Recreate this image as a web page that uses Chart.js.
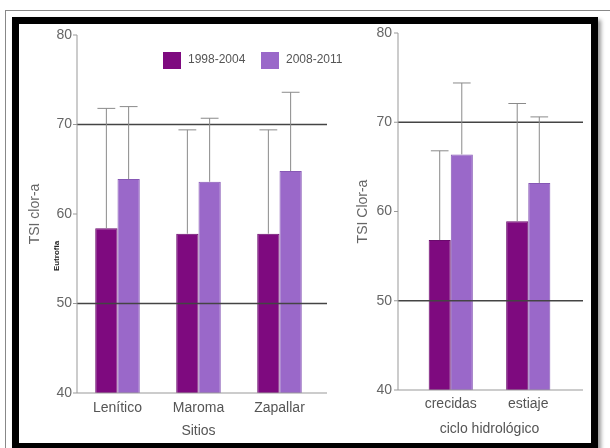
<!DOCTYPE html>
<html>
<head>
<meta charset="utf-8">
<script src="https://cdn.jsdelivr.net/npm/chart.js@4.4.0/dist/chart.umd.min.js"></script>
<style>
  body { margin: 0; background: #fff; }
  #wrap { position: relative; width: 610px; height: 448px; overflow: hidden; }
  #outer { position: absolute; left: 5px; top: 10px; width: 620px; height: 450px; border-left: 1px solid #888; border-top: 1px solid #888; }
  #frame { position: absolute; left: 12px; top: 17px; width: 572px; height: 419px; border: 7px solid #000; box-shadow: 3px 3px 4px #999; background: #fff; }
  canvas { position: absolute; }
  #left { left: 19px; top: 24px; }
  #right { left: 336px; top: 24px; }
</style>
</head>
<body>
<div id="wrap">
  <div id="outer"></div>
  <div id="frame"></div>
  <canvas id="left" width="380" height="418"></canvas>
  <canvas id="right" width="254" height="418"></canvas>
</div>
<script>
// series labels
const periods = ['1998-2004', '2008-2011'];

// left panel: sites
const sites = ['Lenítico', 'Maroma', 'Zapallar'];
const sitesMean1 = [58.4, 57.8, 57.8];
const sitesMean2 = [63.9, 63.6, 64.8];
const sitesErr1 = [71.8, 69.4, 69.4];
const sitesErr2 = [72.0, 70.7, 73.6];

// right panel: hydrological cycle
const cycle = ['crecidas', 'estiaje'];
const cycleMean1 = [56.8, 58.9];
const cycleMean2 = [66.4, 63.2];
const cycleErr1 = [66.8, 72.1];
const cycleErr2 = [74.4, 70.6];

const yTicks = [40, 50, 60, 70, 80];
const refLines = [50, 70];

const dark = '#7e0a7f';
const light = '#9a68c9';
const font = 'Liberation Sans, Arial, sans-serif';

// axis line, tick marks, reference lines and error whiskers
const panelLines = {
  id: 'panelLines',
  afterDatasetsDraw(chart, args, opts) {
    const ctx = chart.ctx;
    const y = chart.scales.y;
    const area = chart.chartArea;
    const x0 = area.left + opts.axisShift;
    const x1 = area.right + opts.lineExtend;
    ctx.save();
    // reference lines
    ctx.strokeStyle = '#444';
    ctx.lineWidth = 1.4;
    refLines.forEach(v => {
      const py = y.getPixelForValue(v);
      ctx.beginPath(); ctx.moveTo(x0, py); ctx.lineTo(x1, py); ctx.stroke();
    });
    // axes
    ctx.strokeStyle = '#999';
    ctx.lineWidth = 1;
    const yb = y.getPixelForValue(40), yt = y.getPixelForValue(80);
    ctx.beginPath(); ctx.moveTo(x0, yt); ctx.lineTo(x0, yb); ctx.lineTo(x1, yb); ctx.stroke();
    yTicks.forEach(v => {
      const py = y.getPixelForValue(v);
      ctx.beginPath(); ctx.moveTo(x0 - 4, py); ctx.lineTo(x0, py); ctx.stroke();
    });
    // error whiskers (upper only)
    ctx.strokeStyle = '#8a8a8a';
    chart.data.datasets.forEach((ds, i) => {
      const meta = chart.getDatasetMeta(i);
      meta.data.forEach((bar, j) => {
        const top = y.getPixelForValue(ds.errTop[j]);
        const half = bar.width * 0.4;
        ctx.beginPath();
        ctx.moveTo(bar.x, bar.y); ctx.lineTo(bar.x, top);
        ctx.moveTo(bar.x - half, top); ctx.lineTo(bar.x + half, top);
        ctx.stroke();
      });
    });
    // extra note
    if (opts.note) {
      ctx.fillStyle = '#222';
      ctx.font = 'bold 8px ' + font;
      ctx.translate(opts.note.x, opts.note.y);
      ctx.rotate(-Math.PI / 2);
      ctx.textAlign = 'center';
      ctx.textBaseline = 'middle';
      ctx.fillText(opts.note.text, 0, 0);
    }
    ctx.restore();
  }
};

// legend drawn inside the plot
const insideLegend = {
  id: 'insideLegend',
  afterDraw(chart, args, opts) {
    if (!opts.show) return;
    const ctx = chart.ctx;
    ctx.save();
    ctx.font = '12px ' + font;
    ctx.textBaseline = 'middle';
    let x = opts.x;
    chart.data.datasets.forEach(ds => {
      ctx.fillStyle = ds.backgroundColor;
      ctx.fillRect(x, opts.y - 8, 18, 17);
      ctx.fillStyle = '#555';
      ctx.fillText(ds.label, x + 25, opts.y);
      x += 98;
    });
    ctx.restore();
  }
};

function makeChart(id, labels, m1, m2, e1, e2, cfg) {
  return new Chart(document.getElementById(id), {
    type: 'bar',
    data: {
      labels: labels,
      datasets: [
        { label: periods[0], data: m1, errTop: e1, backgroundColor: dark, borderColor: '#6a0a6c', borderWidth: 1 },
        { label: periods[1], data: m2, errTop: e2, backgroundColor: light, borderColor: '#8658b5', borderWidth: 1 }
      ]
    },
    options: {
      responsive: false,
      animation: false,
      layout: { padding: cfg.padding },
      datasets: { bar: { categoryPercentage: cfg.catPct, barPercentage: 1 } },
      plugins: {
        legend: { display: false },
        tooltip: { enabled: false },
        panelLines: { axisShift: cfg.axisShift, lineExtend: cfg.lineExtend, note: cfg.note },
        insideLegend: cfg.legend
      },
      scales: {
        x: {
          grid: { display: false, drawTicks: false },
          border: { display: false },
          ticks: { color: '#555', font: { family: font, size: 14 }, padding: cfg.xPad, maxRotation: 0 },
          title: { display: true, text: cfg.xTitle, color: '#555', font: { family: font, size: 14 }, padding: { top: 0, bottom: cfg.xTitlePad } },
          afterFit: s => { s.height = cfg.xHeight; }
        },
        y: {
          min: 40, max: 80,
          afterBuildTicks: s => { s.ticks = yTicks.map(v => ({ value: v })); },
          grid: { display: false, drawTicks: false },
          border: { display: false },
          ticks: { color: '#666', font: { family: font, size: 14 }, padding: cfg.yPad },
          title: { display: true, text: cfg.yTitle, color: '#666', font: { family: font, size: 14 }, padding: { top: cfg.yTitlePad, bottom: 0 } },
          afterFit: s => { s.width = cfg.yWidth; s.paddingTop = 0; s.paddingBottom = 0; }
        }
      }
    },
    plugins: [panelLines, insideLegend]
  });
}

makeChart('left', sites, sitesMean1, sitesMean2, sitesErr1, sitesErr2, {
  padding: { top: 11, right: 79, left: 0, bottom: 0 },
  yWidth: 58, xHeight: 49, yPad: 5, xPad: 7, xTitlePad: 2, yTitlePad: 8,
  catPct: 0.55, axisShift: 0, lineExtend: 7,
  xTitle: 'Sitios', yTitle: 'TSI clor-a',
  note: { text: 'Eutrofia', x: 38, y: 232 },
  legend: { show: true, x: 144, y: 36 }
});

makeChart('right', cycle, cycleMean1, cycleMean2, cycleErr1, cycleErr2, {
  padding: { top: 9, right: 23, left: 0, bottom: 0 },
  yWidth: 76, xHeight: 52, yPad: 20, xPad: 6, xTitlePad: 4, yTitlePad: 19,
  catPct: 0.57, axisShift: -14, lineExtend: 16,
  xTitle: 'ciclo hidrológico', yTitle: 'TSI Clor-a',
  legend: { show: false }
});
</script>
</body>
</html>
